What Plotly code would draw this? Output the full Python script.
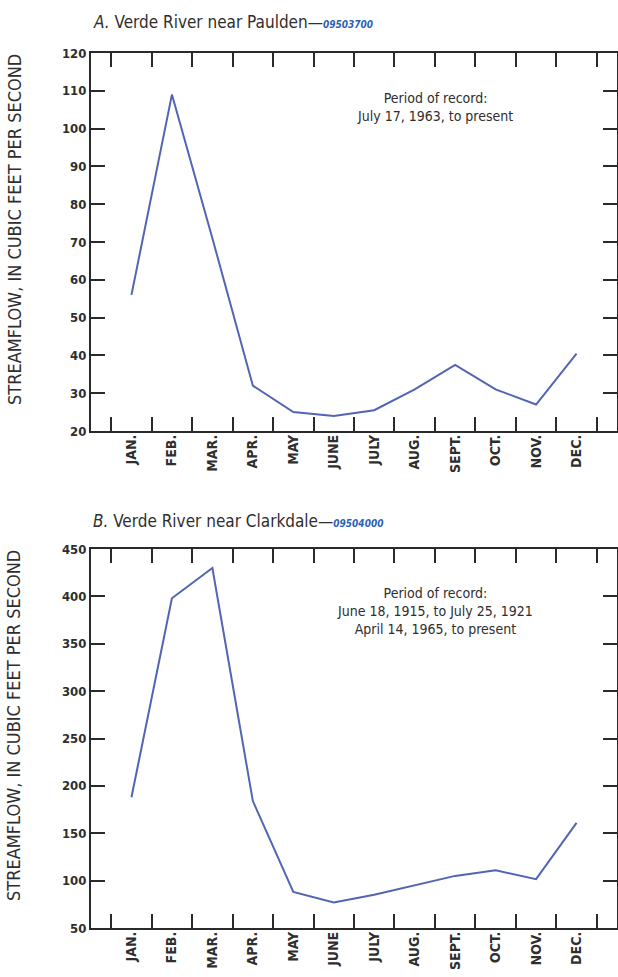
import plotly.graph_objects as go

months = ["JAN.", "FEB.", "MAR.", "APR.", "MAY", "JUNE", "JULY", "AUG.", "SEPT.", "OCT.", "NOV.", "DEC."]
paulden_flow = [56, 109, 71, 32, 25, 24, 25.5, 31, 37.5, 31, 27, 40.5]
clarkdale_flow = [188, 398, 430, 184, 88, 77, 85, 95, 105, 111, 101.5, 161]
paulden_yticks = [20, 30, 40, 50, 60, 70, 80, 90, 100, 110, 120]
clarkdale_yticks = [50, 100, 150, 200, 250, 300, 350, 400, 450]

title_a = "<i>A.</i> Verde River near Paulden—<span style='color:#2b5fb4;font-size:10px'><i><b>09503700</b></i></span>"
title_b = "<i>B.</i> Verde River near Clarkdale—<span style='color:#2b5fb4;font-size:10px'><i><b>09504000</b></i></span>"
note_a = "Period of record:<br>July 17, 1963, to present"
note_b = "Period of record:<br>June 18, 1915, to July 25, 1921<br>April 14, 1965, to present"
ytitle = "STREAMFLOW, IN CUBIC FEET PER SECOND"

FONT = "DejaVu Sans Condensed, Liberation Sans Narrow, sans-serif"
TXT = "#2e2e2e"
LINE = "#5264b4"
AX = "#2a2a2a"

xpos = list(range(len(months)))
bounds = [i - 0.5 for i in range(len(months) + 1)]

fig = go.Figure()
fig.add_trace(go.Scatter(x=xpos, y=paulden_flow, mode="lines", line=dict(color=LINE, width=2),
                         xaxis="x", yaxis="y", showlegend=False, hoverinfo="skip"))
fig.add_trace(go.Scatter(x=xpos, y=clarkdale_flow, mode="lines", line=dict(color=LINE, width=2),
                         xaxis="x2", yaxis="y2", showlegend=False, hoverinfo="skip"))

top_dom = [0.568, 1.0]
bot_dom = [0.0, 0.4331]

def xtick_axis(anchor):
    return dict(range=[-1, 12], tickmode="array", tickvals=bounds, ticktext=[""] * len(bounds),
                ticks="inside", ticklen=14, tickwidth=2, tickcolor=AX,
                showline=True, linecolor=AX, linewidth=2, mirror="ticks",
                showgrid=False, zeroline=False, anchor=anchor, domain=[0, 1], automargin=False)

def xlabel_axis(anchor, overlay):
    return dict(range=[-1, 12], tickmode="array", tickvals=xpos,
                ticktext=["<b>%s</b>" % m for m in months],
                tickangle=-90, ticks="", showline=False, showgrid=False, zeroline=False,
                overlaying=overlay, anchor=anchor, side="bottom", automargin=False,
                tickfont=dict(family=FONT, size=14, color=TXT))

def yaxis(rng, tv, dom, anchor):
    return dict(range=rng, tickmode="array", tickvals=tv, ticktext=["<b>%d</b>" % v for v in tv],
                ticks="inside", ticklen=14, tickwidth=2,
                tickcolor=AX, showline=True, linecolor=AX, linewidth=2, mirror="ticks",
                showgrid=False, zeroline=False, domain=dom, anchor=anchor, automargin=False,
                tickfont=dict(family=FONT, size=13, color=TXT))

fig.update_layout(
    width=618, height=977,
    margin=dict(l=91, r=1, t=53, b=49),
    paper_bgcolor="white", plot_bgcolor="white",
    font=dict(family=FONT, color=TXT),
    xaxis=xtick_axis("y"),
    xaxis3=xlabel_axis("y", "x"),
    yaxis=yaxis([20, 120], paulden_yticks, top_dom, "x"),
    xaxis2=xtick_axis("y2"),
    xaxis4=xlabel_axis("y2", "x2"),
    yaxis2=yaxis([50, 450], clarkdale_yticks, bot_dom, "x2"),
)
fig.add_trace(go.Scatter(x=[None], y=[None], xaxis="x3", yaxis="y", showlegend=False))
fig.add_trace(go.Scatter(x=[None], y=[None], xaxis="x4", yaxis="y2", showlegend=False))

fig.add_annotation(text=title_a, xref="paper", yref="paper", x=0, y=1.0, yshift=19,
                   xanchor="left", yanchor="bottom", showarrow=False,
                   font=dict(family=FONT, size=17, color=TXT))
fig.add_annotation(text=title_b, xref="paper", yref="paper", x=0, y=0.4331, yshift=16,
                   xanchor="left", yanchor="bottom", showarrow=False,
                   font=dict(family=FONT, size=17, color=TXT))
fig.add_annotation(text=note_a, xref="x", yref="y", x=7.5, y=105.6, showarrow=False,
                   xanchor="center", yanchor="middle", align="center",
                   font=dict(family=FONT, size=14, color=TXT))
fig.add_annotation(text=note_b, xref="x2", yref="y2", x=7.5, y=384.5, showarrow=False,
                   xanchor="center", yanchor="middle", align="center",
                   font=dict(family=FONT, size=14, color=TXT))
for yc in (0.7977, 0.2309):
    fig.add_annotation(text=ytitle, xref="paper", yref="paper", x=0, xshift=-77, y=yc,
                       xanchor="center", yanchor="middle", textangle=-90, showarrow=False,
                       font=dict(family=FONT, size=18, color=TXT))

fig.write_html("out.html", config={"displayModeBar": False},
               post_script="document.body.style.margin='0';")
